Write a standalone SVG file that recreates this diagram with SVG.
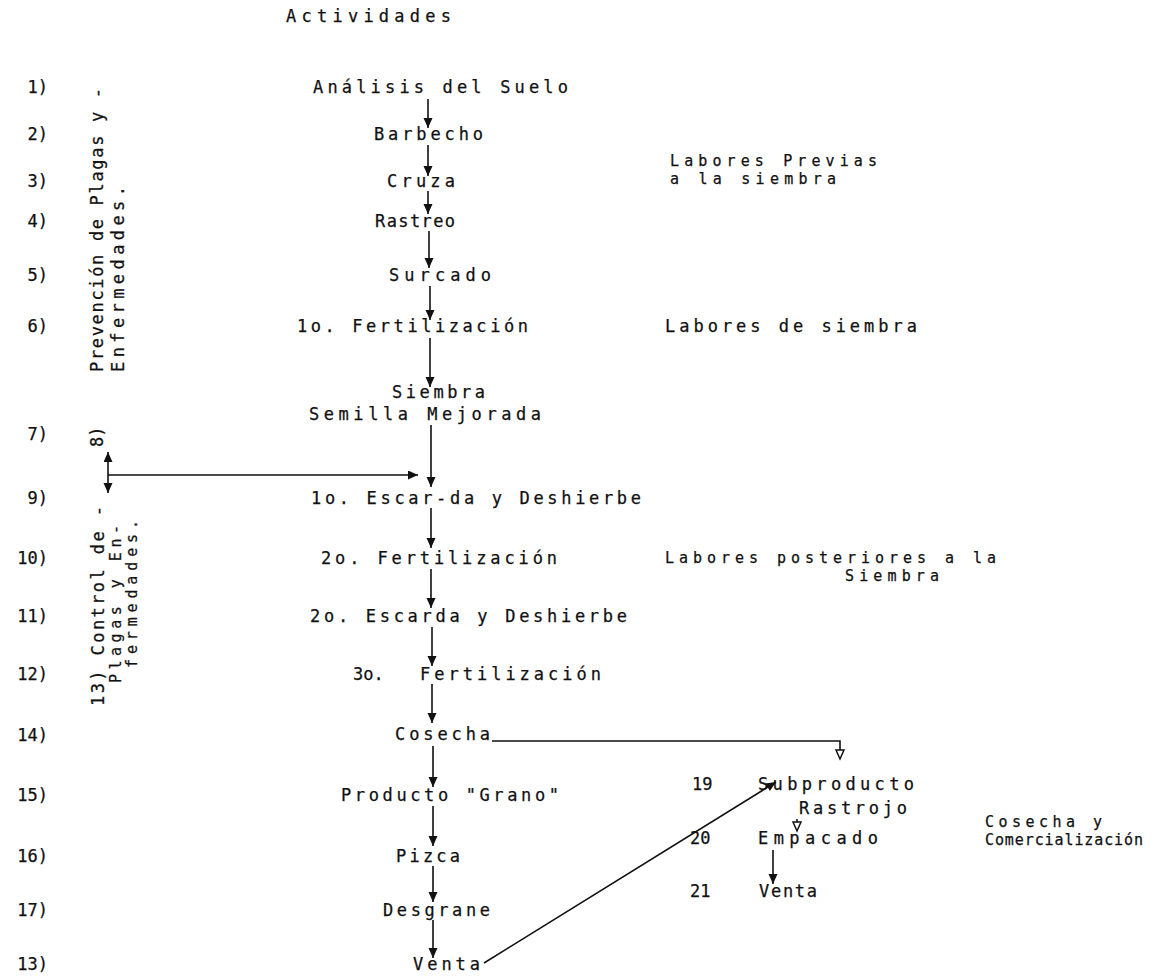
<svg xmlns="http://www.w3.org/2000/svg" width="1153" height="978" viewBox="0 0 1153 978">
<style>
text{font-family:"DejaVu Sans Mono","Liberation Mono",monospace;font-size:17px;fill:#111;stroke:#111;stroke-width:0.25;}
text.lab{font-size:15px;}
.num{text-anchor:end;}
.ln{stroke:#111;stroke-width:1.6;fill:none;}
</style>
<defs>
<marker id="ah" markerUnits="userSpaceOnUse" markerWidth="10" markerHeight="10" refX="10" refY="4.5" orient="auto"><path d="M0,0 L10,4.5 L0,9 z" fill="#111"/></marker>
<marker id="ao" markerUnits="userSpaceOnUse" markerWidth="12" markerHeight="12" refX="10" refY="5" orient="auto"><path d="M1,1 L10,5 L1,9 z" fill="#fff" stroke="#111" stroke-width="1.5"/></marker>
</defs>
<rect width="1153" height="978" fill="#fff"/>
<g id="header"><text x="286" y="22" textLength="165" lengthAdjust="spacing">Actividades</text></g>
<g id="numbers">
<text class="num" x="48" y="93">1)</text>
<text class="num" x="48" y="140">2)</text>
<text class="num" x="48" y="187">3)</text>
<text class="num" x="48" y="227">4)</text>
<text class="num" x="48" y="281">5)</text>
<text class="num" x="48" y="332">6)</text>
<text class="num" x="48" y="440">7)</text>
<text class="num" x="48" y="504">9)</text>
<text class="num" x="48" y="564">10)</text>
<text class="num" x="48" y="622">11)</text>
<text class="num" x="48" y="680">12)</text>
<text class="num" x="48" y="741">14)</text>
<text class="num" x="48" y="801">15)</text>
<text class="num" x="48" y="862">16)</text>
<text class="num" x="48" y="916">17)</text>
<text class="num" x="48" y="970">13)</text>
</g>
<g id="prevencion">
<text transform="translate(103,372) rotate(-90)" textLength="284" lengthAdjust="spacing">Prevención de Plagas y -</text>
<text transform="translate(124,372) rotate(-90)" textLength="186" lengthAdjust="spacing">Enfermedades.</text>
</g>
<g id="control">
<text transform="translate(103,447) rotate(-90)">8)</text>
<text transform="translate(104,706) rotate(-90)" textLength="200" lengthAdjust="spacing">13) Control de -</text>
<text class="lab" transform="translate(121,683) rotate(-90)" textLength="158" lengthAdjust="spacing">Plagas y En-</text>
<text class="lab" transform="translate(137,668) rotate(-90)" textLength="148" lengthAdjust="spacing">fermedades.</text>
</g>
<g id="n1"><text x="313" y="93" textLength="255" lengthAdjust="spacing">Análisis del Suelo</text></g>
<g id="n2"><text x="374" y="140" textLength="109" lengthAdjust="spacing">Barbecho</text></g>
<g id="n3"><text x="387" y="187" textLength="68" lengthAdjust="spacing">Cruza</text></g>
<g id="n4"><text x="375" y="227" textLength="80" lengthAdjust="spacing">Rastreo</text></g>
<g id="n5"><text x="389" y="281" textLength="102" lengthAdjust="spacing">Surcado</text></g>
<g id="n6"><text x="297" y="332" textLength="231" lengthAdjust="spacing">1o. Fertilización</text></g>
<g id="n7"><text x="392" y="398" textLength="93" lengthAdjust="spacing">Siembra</text><text x="309" y="420" textLength="232" lengthAdjust="spacing">Semilla  Mejorada</text></g>
<g id="n9"><text x="311" y="504" textLength="330" lengthAdjust="spacing">1o. Escar-da y Deshierbe</text></g>
<g id="n10"><text x="321" y="564" textLength="236" lengthAdjust="spacing">2o. Fertilización</text></g>
<g id="n11"><text x="310" y="622" textLength="317" lengthAdjust="spacing">2o. Escarda y Deshierbe</text></g>
<g id="n12"><text x="353" y="680">3o.</text><text x="420" y="680" textLength="181" lengthAdjust="spacing">Fertilización</text></g>
<g id="n14"><text x="395" y="740" textLength="95" lengthAdjust="spacing">Cosecha</text></g>
<g id="n15"><text x="341" y="801" textLength="218" lengthAdjust="spacing">Producto "Grano"</text></g>
<g id="n16"><text x="396" y="862" textLength="64" lengthAdjust="spacing">Pizca</text></g>
<g id="n17"><text x="383" y="916" textLength="107" lengthAdjust="spacing">Desgrane</text></g>
<g id="n18"><text x="413" y="970" textLength="67" lengthAdjust="spacing">Venta</text></g>
<g id="n19"><text x="692" y="790">19</text><text x="758" y="790" textLength="156" lengthAdjust="spacing">Subproducto</text><text x="799" y="814" textLength="108" lengthAdjust="spacing">Rastrojo</text></g>
<g id="n20"><text x="690" y="844">20</text><text x="758" y="844" textLength="120" lengthAdjust="spacing">Empacado</text></g>
<g id="n21"><text x="690" y="897">21</text><text x="759" y="897" textLength="58" lengthAdjust="spacing">Venta</text></g>
<g id="labels">
<text class="lab" x="670" y="166" textLength="207" lengthAdjust="spacing">Labores Previas</text>
<text class="lab" x="670" y="184" textLength="166" lengthAdjust="spacing">a la siembra</text>
<text x="665" y="332" textLength="252" lengthAdjust="spacing">Labores de siembra</text>
<text class="lab" x="665" y="563" textLength="331" lengthAdjust="spacing">Labores posteriores a la</text>
<text class="lab" x="845" y="581" textLength="94" lengthAdjust="spacing">Siembra</text>
<text class="lab" x="985" y="827" textLength="117" lengthAdjust="spacing">Cosecha y</text>
<text class="lab" x="985" y="845" textLength="158" lengthAdjust="spacing">Comercialización</text>
</g>
<g id="connectors">
<line class="ln" x1="428" y1="99" x2="428" y2="128" marker-end="url(#ah)"/>
<line class="ln" x1="428" y1="145" x2="428" y2="176" marker-end="url(#ah)"/>
<line class="ln" x1="428" y1="191" x2="428" y2="214" marker-end="url(#ah)"/>
<line class="ln" x1="429" y1="231" x2="429" y2="268" marker-end="url(#ah)"/>
<line class="ln" x1="430" y1="286" x2="430" y2="320" marker-end="url(#ah)"/>
<line class="ln" x1="430" y1="338" x2="430" y2="387" marker-end="url(#ah)"/>
<line class="ln" x1="431" y1="425" x2="431" y2="487" marker-end="url(#ah)"/>
<line class="ln" x1="431" y1="508" x2="431" y2="548" marker-end="url(#ah)"/>
<line class="ln" x1="431" y1="569" x2="431" y2="608" marker-end="url(#ah)"/>
<line class="ln" x1="432" y1="627" x2="432" y2="666" marker-end="url(#ah)"/>
<line class="ln" x1="432" y1="684" x2="432" y2="723" marker-end="url(#ah)"/>
<line class="ln" x1="433" y1="746" x2="433" y2="787" marker-end="url(#ah)"/>
<line class="ln" x1="433" y1="806" x2="433" y2="846" marker-end="url(#ah)"/>
<line class="ln" x1="433" y1="866" x2="433" y2="902" marker-end="url(#ah)"/>
<line class="ln" x1="433" y1="920" x2="433" y2="958" marker-end="url(#ah)"/>
<polyline class="ln" points="492,741 840,741 840,759" marker-end="url(#ao)"/>
<line class="ln" x1="484" y1="963" x2="776" y2="782" marker-end="url(#ah)"/>
<line class="ln" x1="797" y1="819" x2="797" y2="831" marker-end="url(#ao)"/>
<line class="ln" x1="773" y1="850" x2="773" y2="884" marker-end="url(#ah)"/>
<line class="ln" x1="108" y1="472" x2="108" y2="452" marker-end="url(#ah)"/>
<line class="ln" x1="108" y1="472" x2="108" y2="493" marker-end="url(#ah)"/>
<line class="ln" x1="108" y1="475" x2="418" y2="475" marker-end="url(#ah)"/>
</g>
</svg>
